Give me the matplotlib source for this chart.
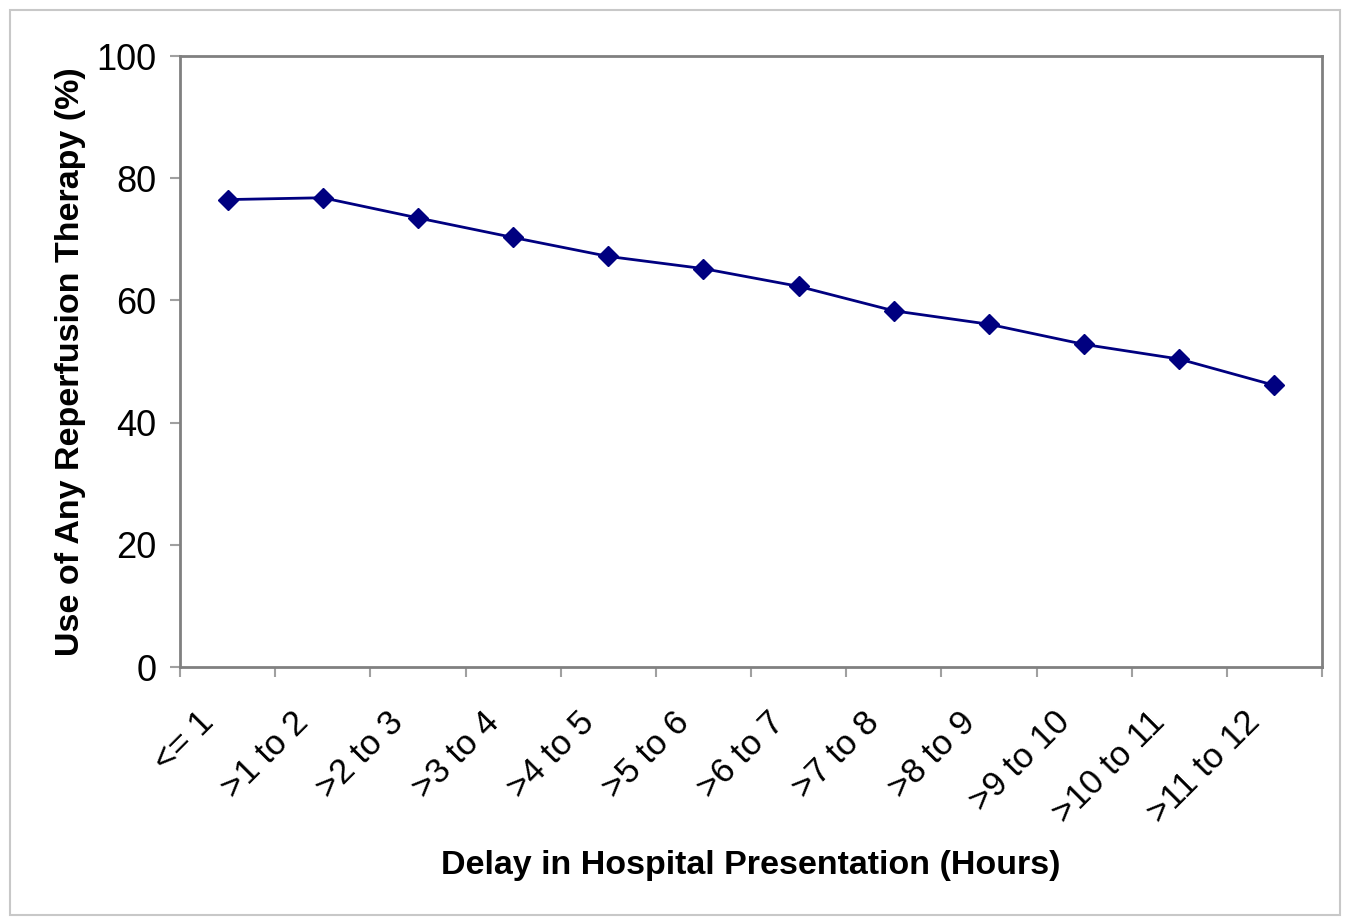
import matplotlib.pyplot as plt
import matplotlib.transforms as mtransforms
from matplotlib.patches import Rectangle

plt.rcParams['font.family'] = ['Liberation Sans', 'DejaVu Sans']

categories = ["<= 1", ">1 to 2", ">2 to 3", ">3 to 4", ">4 to 5", ">5 to 6",
              ">6 to 7", ">7 to 8", ">8 to 9", ">9 to 10", ">10 to 11", ">11 to 12"]
reperfusion = [76.5, 76.8, 73.5, 70.3, 67.2, 65.2, 62.3, 58.3, 56.1, 52.8, 50.4, 46.1]

fig = plt.figure(figsize=(13.47, 9.21), dpi=100)
ax = fig.add_axes([180/1347, 1 - 667/921, (1322-180)/1347, (667-56)/921])

x = list(range(len(categories)))
ax.plot(x, reperfusion, color='#000080', lw=2, marker='D', ms=10.5, mec='#000080', mfc='#000080')

ax.set_xlim(-0.5, len(categories) - 0.5)
ax.set_ylim(0, 100)
ax.set_yticks(range(0, 101, 20))
ax.tick_params(axis='y', labelsize=26, length=7, width=1.5, color='#a0a0a0', pad=10)

# category ticks sit between points, labels at centres
ax.set_xticks([i - 0.5 for i in range(len(categories) + 1)])
ax.set_xticklabels([])
ax.set_xticks(x, minor=True)
ax.tick_params(axis='x', which='major', length=7, width=1.5, color='#a0a0a0')
ax.tick_params(axis='x', which='minor', length=0, pad=37)
ax.set_xticklabels(categories, minor=True, rotation=45, ha='right', va='baseline',
                   rotation_mode='anchor', fontsize=25)
# nudge rotated labels a bit left/down like the original
offset = mtransforms.ScaledTranslation(-9/72, -4/72, fig.dpi_scale_trans)
for lbl in ax.get_xticklabels(minor=True):
    lbl.set_transform(lbl.get_transform() + offset)

for s in ax.spines.values():
    s.set_color('#808080')
    s.set_linewidth(2)

ax.set_ylabel("Use of Any Reperfusion Therapy (%)", fontsize=24.5, fontweight='bold', va='center')
ax.yaxis.set_label_coords(-0.0963, 0.5)
ax.set_xlabel("Delay in Hospital Presentation (Hours)", fontsize=24.5, fontweight='bold', va='center')
ax.xaxis.set_label_coords(0.5, -0.325)

# outer frame around the chart area
fig.patches.append(Rectangle((10/1347, 6/921), 1330/1347, 905/921, transform=fig.transFigure,
                             fill=False, edgecolor='#c8c8c8', lw=1.5))

fig.savefig('out.png', dpi=100)
